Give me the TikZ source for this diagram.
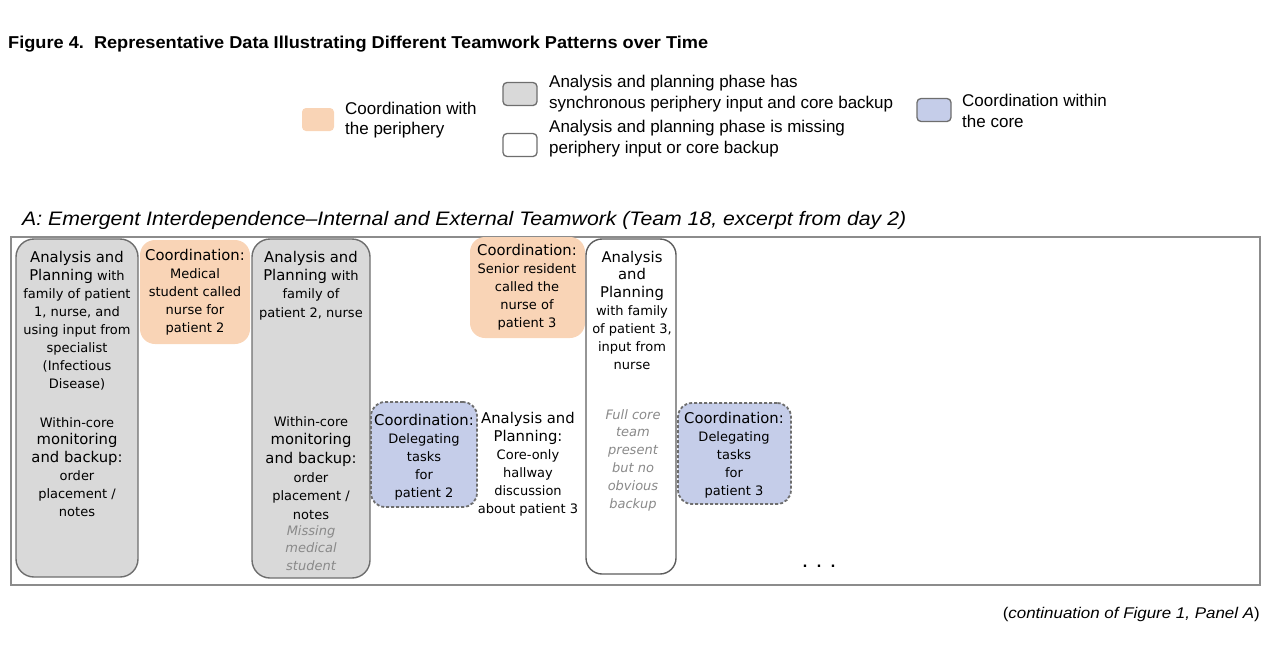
\documentclass[tikz,border=0pt]{standalone}
\usepackage{fontspec}
\usepackage{graphicx}
\setmainfont{DejaVu Sans}
\newfontfamily\legfont[Ligatures=TeX]{Liberation Sans}
\definecolor{boxgray}{HTML}{D9D9D9}
\definecolor{edgegray}{HTML}{6E6E6E}
\definecolor{peach}{HTML}{F9D4B6}
\definecolor{lblue}{HTML}{C5CDE9}
\definecolor{framegray}{HTML}{8C8C8C}
\definecolor{itgray}{HTML}{8A8A8A}
\newcommand{\Lg}{\fontsize{14.8}{18}\selectfont}
\newcommand{\tb}[1]{\begin{tabular}[t]{@{}c@{}}#1\end{tabular}}
\newcommand{\tl}[1]{\begin{tabular}[t]{@{}l@{}}#1\end{tabular}}
\newcommand{\sk}[1]{\fontsize{13}{#1}\selectfont}
\tikzset{
  graybox/.style={draw=edgegray, fill=boxgray, line width=1.4pt, rounded corners=18pt, inner sep=0},
  whitebox/.style={draw=edgegray!85!black, fill=white, line width=1.4pt, rounded corners=16pt, inner sep=0},
  peachbox/.style={fill=peach, draw=none, rounded corners=15pt, inner sep=0},
  bluebox/.style={draw=edgegray, fill=lblue, line width=1.8pt, dash pattern=on 3pt off 2pt, rounded corners=14pt, inner sep=0},
  txt/.style={inner sep=0, anchor=base},
  ittxt/.style={inner sep=0, anchor=base, text=itgray, font=\itshape},
  leg/.style={inner sep=0, anchor=base west, font={\legfont\fontsize{17}{20.5}\selectfont}},
  legsq/.style={line width=1.3pt, rounded corners=4pt, inner sep=0, minimum width=34pt, minimum height=23pt},
}
\begin{document}
\begin{tikzpicture}[x=1pt, y=-1pt]
\useasboundingbox (0,0) rectangle (1277,648);
% title
\node[inner sep=0, anchor=base west] (title) at (8,48.5)
  {\resizebox{700pt}{\height}{\legfont\bfseries\fontsize{17.2}{19}\selectfont Figure 4.\ \ Representative Data Illustrating Different Teamwork Patterns over Time}};
% legend
\node[legsq, fill=peach, draw=none, minimum width=32pt] (lp) at (318,119.5) {};
\node[leg] (lpt) at (345,114.3) {\tl{Coordination with\\the periphery}};
\node[legsq, fill=boxgray, draw=edgegray] (lg) at (520,94) {};
\node[leg] (lgt) at (549,87.7) {\tl{Analysis and planning phase has\\synchronous periphery input and core backup}};
\node[legsq, fill=white, draw=edgegray] (lw) at (520,145) {};
\node[leg] (lwt) at (549,132.7) {\tl{Analysis and planning phase is missing\\periphery input or core backup}};
\node[legsq, fill=lblue, draw=edgegray] (lb) at (934,110) {};
\node[leg] (lbt) at (962,106.7) {\tl{Coordination within\\the core}};
% panel title
\node[inner sep=0, anchor=base west] (ptitle) at (22,225.5)
  {\resizebox{884pt}{\height}{\legfont\itshape\fontsize{19.5}{21}\selectfont A: Emergent Interdependence–Internal and External Teamwork (Team 18, excerpt from day 2)}};
% frame
\node[draw=framegray, line width=1.5pt, inner sep=0, minimum width=1249pt, minimum height=348pt] (frame) at (635.5,411) {};
% boxes
\node[graybox, minimum width=122pt, minimum height=338pt] (b1) at (77,408) {};
\node[peachbox, minimum width=110pt, minimum height=104pt] (b2) at (195,292) {};
\node[graybox, minimum width=118pt, minimum height=339pt] (b3) at (311,408.5) {};
\node[bluebox, minimum width=106pt, minimum height=105pt] (b4) at (424,454.5) {};
\node[peachbox, minimum width=115pt, minimum height=101pt] (b5) at (527.5,287.5) {};
\node[whitebox, minimum width=90pt, minimum height=335pt] (b6) at (631,406.5) {};
\node[bluebox, minimum width=113pt, minimum height=101pt] (b7) at (734.5,453.5) {};
% texts
\node[txt, font=\sk{18.1}] (t1a) at (77,262) {\tb{{\Lg Analysis and}\\{\Lg Planning} with\\family of patient\\1, nurse, and\\using input from\\specialist\\(Infectious\\Disease)}};
\node[txt, font=\sk{17.9}] (t1b) at (77,427) {\tb{Within-core\\{\Lg monitoring}\\{\Lg and backup:}\\order\\placement /\\notes}};
\node[txt, font=\sk{18}] (t2) at (195,260) {\tb{{\Lg Coordination:}\\Medical\\student called\\nurse for\\patient 2}};
\node[txt, font=\sk{18.4}] (t3a) at (311,262) {\tb{{\Lg Analysis and}\\{\Lg Planning} with\\family of\\patient 2, nurse}};
\node[txt, font=\sk{18.7}] (t3b) at (311,426) {\tb{Within-core\\{\Lg monitoring}\\{\Lg and backup:}\\order\\placement /\\notes}};
\node[ittxt, font={\itshape\sk{17.5}}] (t3c) at (311,535) {\tb{Missing\\medical\\student}};
\node[txt, font=\sk{18.2}] (t4) at (424,425) {\tb{{\Lg Coordination:}\\Delegating\\tasks\\for\\patient 2}};
\node[txt, font=\sk{18}] (tf) at (528,423.3) {\tb{{\Lg Analysis and}\\{\Lg Planning:}\\Core-only\\hallway\\discussion\\about patient 3}};
\node[txt, font=\sk{17.9}] (t5) at (527,255.7) {\tb{{\Lg Coordination:}\\Senior resident\\called the\\nurse of\\patient 3}};
\node[txt, font=\sk{17.9}] (t6a) at (632,262) {\tb{{\Lg Analysis}\\{\Lg and}\\{\Lg Planning}\\with family\\of patient 3,\\input from\\nurse}};
\node[ittxt, font={\itshape\sk{17.9}}] (t6b) at (633,419) {\tb{Full core\\team\\present\\but no\\obvious\\backup}};
\node[txt, font=\sk{18.1}] (t7) at (734,423.3) {\tb{{\Lg Coordination:}\\Delegating\\tasks\\for\\patient 3}};
\node[txt, font={\bfseries\sk{18}}] (dots) at (819,567) {.\ \ .\ \ .};
% footer
\node[inner sep=0, anchor=base east] (foot) at (1260,618)
  {\resizebox{257pt}{\height}{\legfont\fontsize{15.5}{17}\selectfont (\textit{continuation of Figure 1, Panel A})}};
\end{tikzpicture}
\end{document}
